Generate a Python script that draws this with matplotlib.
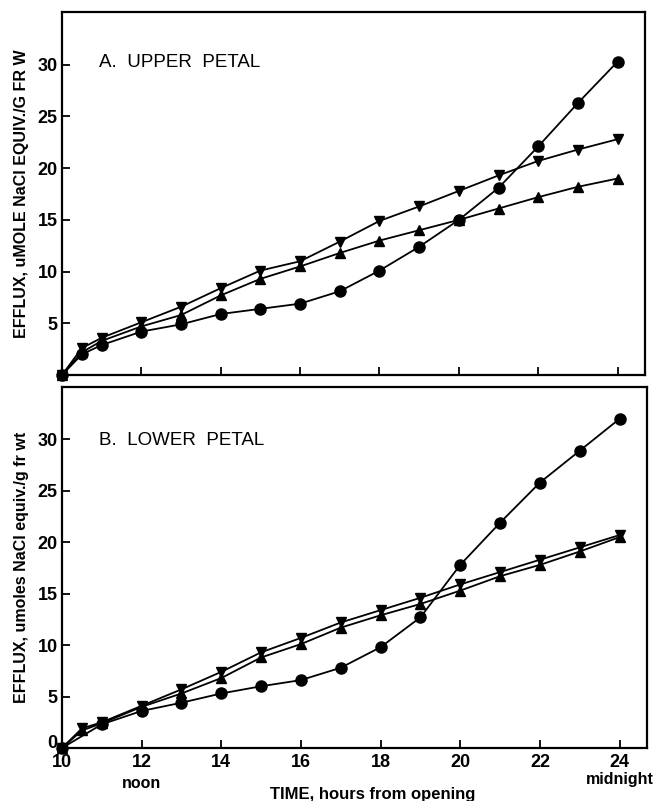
import matplotlib
matplotlib.use("Agg")
import matplotlib.pyplot as plt

plt.rcParams['font.family'] = ['Liberation Sans', 'DejaVu Sans']
plt.rcParams['font.weight'] = 'bold'

# hours after opening (clock time)
hours = [10, 10.5, 11, 12, 13, 14, 15, 16, 17, 18, 19, 20, 21, 22, 23, 24]
hours_b = [10, 11, 12, 13, 14, 15, 16, 17, 18, 19, 20, 21, 22, 23, 24]

# A. upper petal
upper_circle = [0, 2.0, 2.9, 4.2, 4.9, 5.9, 6.4, 6.9, 8.1, 10.1, 12.4, 15.0, 18.1, 22.1, 26.3, 30.3]
upper_up = [0, 2.2, 3.3, 4.7, 5.8, 7.7, 9.3, 10.5, 11.8, 13.0, 14.0, 15.0, 16.1, 17.2, 18.2, 19.0]
upper_down = [0, 2.6, 3.6, 5.1, 6.6, 8.4, 10.1, 11.0, 12.9, 14.9, 16.3, 17.8, 19.3, 20.7, 21.8, 22.8]

# B. lower petal
lower_circle = [0, 2.3, 3.6, 4.4, 5.3, 6.0, 6.6, 7.8, 9.8, 12.7, 17.8, 21.9, 25.8, 28.9, 32.0]
lower_up = [0, 1.7, 2.4, 4.0, 5.3, 6.8, 8.8, 10.1, 11.7, 12.9, 14.0, 15.3, 16.7, 17.8, 19.1, 20.5]
lower_down = [0, 1.9, 2.5, 4.1, 5.7, 7.4, 9.3, 10.7, 12.2, 13.4, 14.6, 15.9, 17.1, 18.3, 19.5, 20.7]

xticks = [10, 12, 14, 16, 18, 20, 22, 24]
yticks_a = [5, 10, 15, 20, 25, 30]
yticks_b = [0, 5, 10, 15, 20, 25, 30]

fig = plt.figure(figsize=(6.56, 8.01), dpi=100)
ax1 = fig.add_axes([0.0945, 0.5318, 0.8887, 0.4532])
ax2 = fig.add_axes([0.0945, 0.0662, 0.8918, 0.4507])


def draw_panel(ax, xc, circ, up, down, yt, title, ty, ylabel):
    ax.plot(xc, circ, color='black', lw=1.3, marker='o', ms=8, zorder=3, clip_on=False)
    ax.plot(hours, up, color='black', lw=1.3, marker='^', ms=7, zorder=3, clip_on=False)
    ax.plot(hours, down, color='black', lw=1.3, marker='v', ms=7, zorder=3, clip_on=False)
    ax.set_xlim(10, 24.69)
    ax.set_ylim(0, 35.1)
    ax.set_xticks(xticks)
    ax.set_yticks(yt)
    ax.tick_params(direction='in', length=6, width=1.3, labelsize=13, pad=3)
    ax.tick_params(axis='x', pad=4)
    for s in ax.spines.values():
        s.set_linewidth(1.6)
    ax.text(0.063, ty, title, transform=ax.transAxes, fontsize=13.5,
            fontweight='normal', va='center', ha='left')
    ax.set_ylabel(ylabel, fontsize=11.5, fontweight='bold')
    ax.yaxis.set_label_coords(-0.057, 0.5)


draw_panel(ax1, hours, upper_circle, upper_up, upper_down, yticks_a,
           'A.  UPPER  PETAL', 0.86, 'EFFLUX, uMOLE NaCl EQUIV./G FR W')
ax1.set_xticklabels([])

draw_panel(ax2, hours_b, lower_circle, lower_up, lower_down, yticks_b,
           'B.  LOWER  PETAL', 0.853, 'EFFLUX, umoles NaCl equiv./g fr wt')
# keep the "0" clear of the "10" below it
ax2.get_yticklabels()[0].set_verticalalignment('baseline')

ax2.text(12, -2.7, 'noon', ha='center', va='top', fontsize=11.5, fontweight='bold')
ax2.text(24, -2.3, 'midnight', ha='center', va='top', fontsize=11.5, fontweight='bold')
fig.text(373 / 656, 1 - 794 / 801, 'TIME, hours from opening', ha='center', va='center',
         fontsize=12, fontweight='bold')

fig.savefig('out.png', dpi=100)
